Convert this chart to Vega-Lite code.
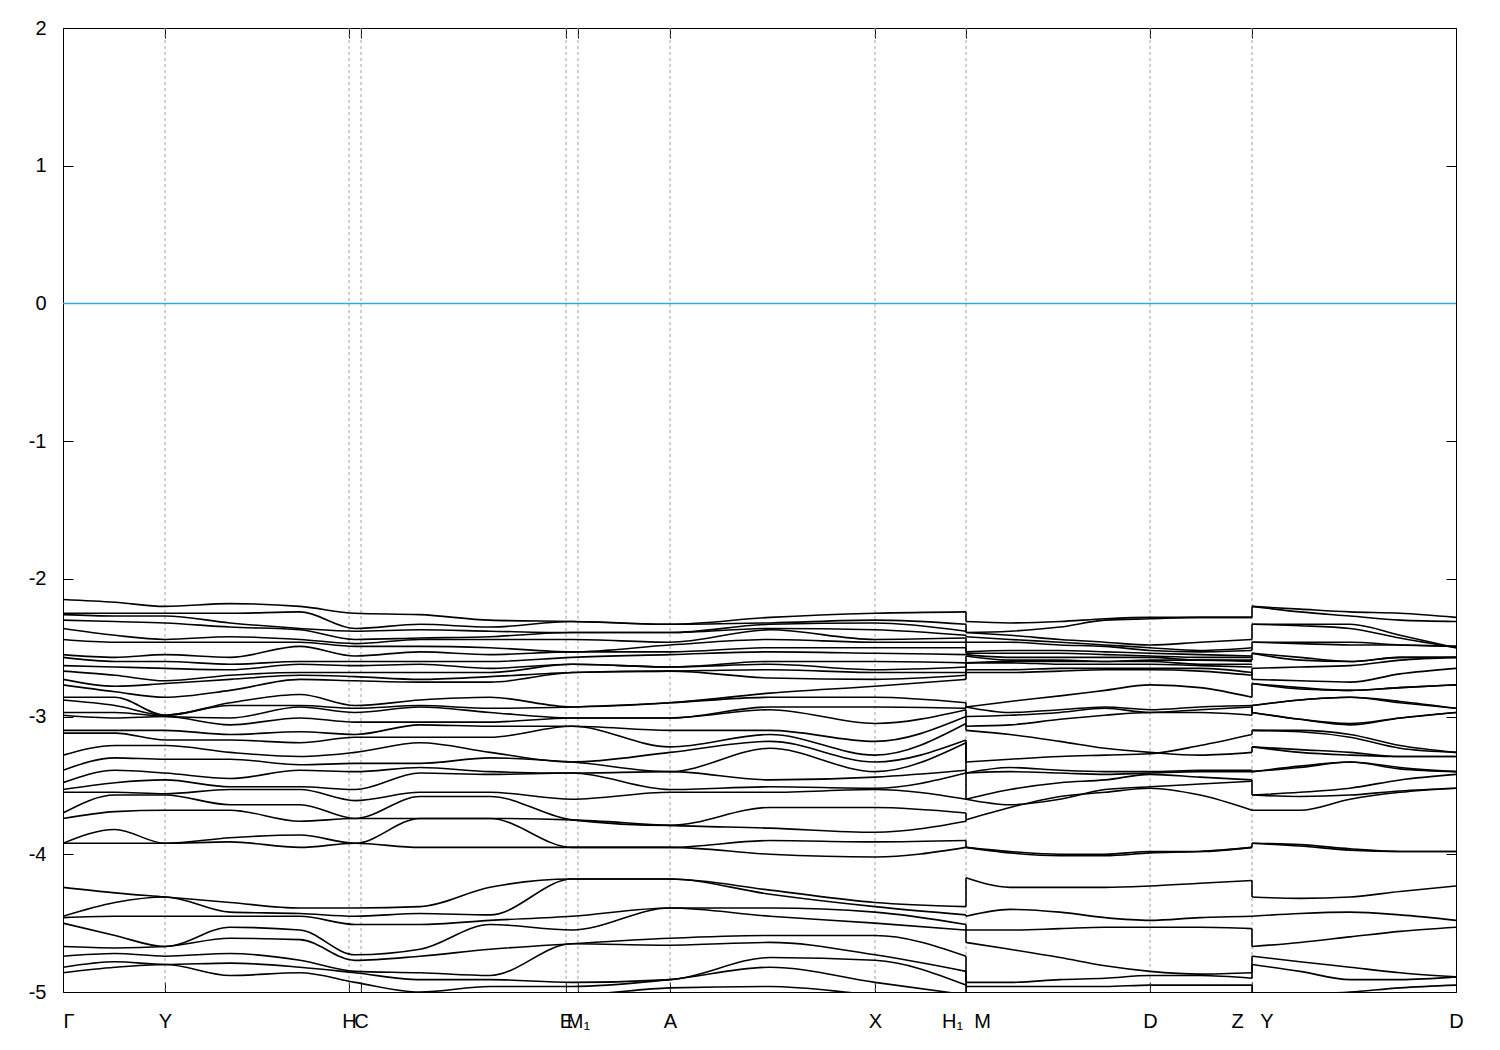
{
"$schema": "https://vega.github.io/schema/vega-lite/v6.json",
"width": 1393, "height": 964,
"autosize": {"type": "none"},
"padding": {"left": 63, "top": 28, "right": 44, "bottom": 58},
"background": "white",
"config": {"view": {"stroke": "black", "strokeWidth": 1}, "font": "Liberation Sans"},
"datasets": {
"kpts": [{"k":102},{"k":286},{"k":298},{"k":503},{"k":515},{"k":607},{"k":812},{"k":903},{"k":1087},{"k":1189}],
"jumps": [
{"k":903,"e":-2.24,"e2":-2.31},{"k":903,"e":-2.33,"e2":-2.39},{"k":903,"e":-2.38,"e2":-2.39},{"k":903,"e":-2.41,"e2":-2.42},{"k":903,"e":-2.43,"e2":-2.46},{"k":903,"e":-2.46,"e2":-2.53},{"k":903,"e":-2.50,"e2":-2.54},{"k":903,"e":-2.61,"e2":-2.56},{"k":903,"e":-2.64,"e2":-2.61},{"k":903,"e":-2.68,"e2":-2.61},{"k":903,"e":-2.70,"e2":-2.66},{"k":903,"e":-2.73,"e2":-2.68},{"k":903,"e":-2.90,"e2":-2.93},{"k":903,"e":-2.94,"e2":-2.93},{"k":903,"e":-2.95,"e2":-3.00},{"k":903,"e":-3.00,"e2":-3.07},{"k":903,"e":-3.05,"e2":-3.10},{"k":903,"e":-3.17,"e2":-3.33},{"k":903,"e":-3.19,"e2":-3.41},{"k":903,"e":-3.39,"e2":-3.41},{"k":903,"e":-3.41,"e2":-3.60},{"k":903,"e":-3.70,"e2":-3.75},{"k":903,"e":-3.76,"e2":-3.75},{"k":903,"e":-3.90,"e2":-3.95},{"k":903,"e":-4.38,"e2":-4.17},{"k":903,"e":-4.44,"e2":-4.45},{"k":903,"e":-4.51,"e2":-4.55},{"k":903,"e":-4.55,"e2":-4.64},{"k":903,"e":-4.74,"e2":-4.93},{"k":903,"e":-4.85,"e2":-4.96},{"k":903,"e":-4.95,"e2":-5.06},
{"k":1189,"e":-2.28,"e2":-2.20},{"k":1189,"e":-2.44,"e2":-2.33},{"k":1189,"e":-2.52,"e2":-2.46},{"k":1189,"e":-2.59,"e2":-2.54},{"k":1189,"e":-2.70,"e2":-2.65},{"k":1189,"e":-2.68,"e2":-2.73},{"k":1189,"e":-2.86,"e2":-2.76},{"k":1189,"e":-2.99,"e2":-2.92},{"k":1189,"e":-2.93,"e2":-2.97},{"k":1189,"e":-3.13,"e2":-3.10},{"k":1189,"e":-3.26,"e2":-3.22},{"k":1189,"e":-3.39,"e2":-3.40},{"k":1189,"e":-3.46,"e2":-3.57},{"k":1189,"e":-3.95,"e2":-3.92},{"k":1189,"e":-4.19,"e2":-4.31},{"k":1189,"e":-4.54,"e2":-4.67},{"k":1189,"e":-4.86,"e2":-4.74},{"k":1189,"e":-4.90,"e2":-4.80},{"k":1189,"e":-4.95,"e2":-5.06}
],
"bands": [
{"s":1,"b":1,"k":0,"e":-2.15},{"s":1,"b":2,"k":0,"e":-2.25},{"s":1,"b":3,"k":0,"e":-2.26},{"s":1,"b":4,"k":0,"e":-2.30},{"s":1,"b":5,"k":0,"e":-2.36},{"s":1,"b":6,"k":0,"e":-2.44},{"s":1,"b":7,"k":0,"e":-2.55},{"s":1,"b":8,"k":0,"e":-2.57},{"s":1,"b":9,"k":0,"e":-2.63},{"s":1,"b":10,"k":0,"e":-2.67},{"s":1,"b":11,"k":0,"e":-2.73},{"s":1,"b":12,"k":0,"e":-2.77},{"s":1,"b":13,"k":0,"e":-2.86},{"s":1,"b":14,"k":0,"e":-2.88},{"s":1,"b":15,"k":0,"e":-2.97},{"s":1,"b":16,"k":0,"e":-2.99},{"s":1,"b":17,"k":0,"e":-3.10},{"s":1,"b":18,"k":0,"e":-3.12},{"s":1,"b":19,"k":0,"e":-3.28},{"s":1,"b":20,"k":0,"e":-3.39},{"s":1,"b":21,"k":0,"e":-3.48},{"s":1,"b":22,"k":0,"e":-3.53},{"s":1,"b":23,"k":0,"e":-3.55},{"s":1,"b":24,"k":0,"e":-3.70},{"s":1,"b":25,"k":0,"e":-3.74},{"s":1,"b":26,"k":0,"e":-3.92},{"s":1,"b":27,"k":0,"e":-3.92},{"s":1,"b":28,"k":0,"e":-4.24},{"s":1,"b":29,"k":0,"e":-4.45},{"s":1,"b":30,"k":0,"e":-4.46},{"s":1,"b":31,"k":0,"e":-4.50},{"s":1,"b":32,"k":0,"e":-4.67},{"s":1,"b":33,"k":0,"e":-4.74},{"s":1,"b":34,"k":0,"e":-4.82},{"s":1,"b":35,"k":0,"e":-4.86},{"s":1,"b":36,"k":0,"e":-5.06},
{"s":1,"b":1,"k":52,"e":-2.17},{"s":1,"b":2,"k":52,"e":-2.25},{"s":1,"b":3,"k":52,"e":-2.27},{"s":1,"b":4,"k":52,"e":-2.31},{"s":1,"b":5,"k":52,"e":-2.41},{"s":1,"b":6,"k":52,"e":-2.46},{"s":1,"b":7,"k":52,"e":-2.57},{"s":1,"b":8,"k":52,"e":-2.60},{"s":1,"b":9,"k":52,"e":-2.64},{"s":1,"b":10,"k":52,"e":-2.70},{"s":1,"b":11,"k":52,"e":-2.78},{"s":1,"b":12,"k":52,"e":-2.82},{"s":1,"b":13,"k":52,"e":-2.86},{"s":1,"b":14,"k":52,"e":-2.92},{"s":1,"b":15,"k":52,"e":-2.97},{"s":1,"b":16,"k":52,"e":-3.01},{"s":1,"b":17,"k":52,"e":-3.10},{"s":1,"b":18,"k":52,"e":-3.12},{"s":1,"b":19,"k":52,"e":-3.21},{"s":1,"b":20,"k":52,"e":-3.30},{"s":1,"b":21,"k":52,"e":-3.39},{"s":1,"b":22,"k":52,"e":-3.48},{"s":1,"b":23,"k":52,"e":-3.55},{"s":1,"b":24,"k":52,"e":-3.57},{"s":1,"b":25,"k":52,"e":-3.69},{"s":1,"b":26,"k":52,"e":-3.82},{"s":1,"b":27,"k":52,"e":-3.92},{"s":1,"b":28,"k":52,"e":-4.28},{"s":1,"b":29,"k":52,"e":-4.35},{"s":1,"b":30,"k":52,"e":-4.45},{"s":1,"b":31,"k":52,"e":-4.59},{"s":1,"b":32,"k":52,"e":-4.68},{"s":1,"b":33,"k":52,"e":-4.72},{"s":1,"b":34,"k":52,"e":-4.78},{"s":1,"b":35,"k":52,"e":-4.82},{"s":1,"b":36,"k":52,"e":-5.06},
{"s":1,"b":1,"k":102,"e":-2.20},{"s":1,"b":2,"k":102,"e":-2.25},{"s":1,"b":3,"k":102,"e":-2.27},{"s":1,"b":4,"k":102,"e":-2.32},{"s":1,"b":5,"k":102,"e":-2.44},{"s":1,"b":6,"k":102,"e":-2.46},{"s":1,"b":7,"k":102,"e":-2.55},{"s":1,"b":8,"k":102,"e":-2.60},{"s":1,"b":9,"k":102,"e":-2.65},{"s":1,"b":10,"k":102,"e":-2.74},{"s":1,"b":11,"k":102,"e":-2.76},{"s":1,"b":12,"k":102,"e":-2.86},{"s":1,"b":13,"k":102,"e":-2.99},{"s":1,"b":14,"k":102,"e":-2.99},{"s":1,"b":15,"k":102,"e":-3.00},{"s":1,"b":16,"k":102,"e":-3.00},{"s":1,"b":17,"k":102,"e":-3.10},{"s":1,"b":18,"k":102,"e":-3.17},{"s":1,"b":19,"k":102,"e":-3.21},{"s":1,"b":20,"k":102,"e":-3.31},{"s":1,"b":21,"k":102,"e":-3.41},{"s":1,"b":22,"k":102,"e":-3.46},{"s":1,"b":23,"k":102,"e":-3.56},{"s":1,"b":24,"k":102,"e":-3.57},{"s":1,"b":25,"k":102,"e":-3.68},{"s":1,"b":26,"k":102,"e":-3.92},{"s":1,"b":27,"k":102,"e":-3.92},{"s":1,"b":28,"k":102,"e":-4.31},{"s":1,"b":29,"k":102,"e":-4.31},{"s":1,"b":30,"k":102,"e":-4.45},{"s":1,"b":31,"k":102,"e":-4.67},{"s":1,"b":32,"k":102,"e":-4.67},{"s":1,"b":33,"k":102,"e":-4.74},{"s":1,"b":34,"k":102,"e":-4.80},{"s":1,"b":35,"k":102,"e":-4.80},{"s":1,"b":36,"k":102,"e":-5.06},
{"s":1,"b":1,"k":167,"e":-2.18},{"s":1,"b":2,"k":167,"e":-2.25},{"s":1,"b":3,"k":167,"e":-2.32},{"s":1,"b":4,"k":167,"e":-2.35},{"s":1,"b":5,"k":167,"e":-2.42},{"s":1,"b":6,"k":167,"e":-2.46},{"s":1,"b":7,"k":167,"e":-2.57},{"s":1,"b":8,"k":167,"e":-2.62},{"s":1,"b":9,"k":167,"e":-2.66},{"s":1,"b":10,"k":167,"e":-2.70},{"s":1,"b":11,"k":167,"e":-2.73},{"s":1,"b":12,"k":167,"e":-2.81},{"s":1,"b":13,"k":167,"e":-2.90},{"s":1,"b":14,"k":167,"e":-2.92},{"s":1,"b":15,"k":167,"e":-3.01},{"s":1,"b":16,"k":167,"e":-3.06},{"s":1,"b":17,"k":167,"e":-3.13},{"s":1,"b":18,"k":167,"e":-3.17},{"s":1,"b":19,"k":167,"e":-3.26},{"s":1,"b":20,"k":167,"e":-3.31},{"s":1,"b":21,"k":167,"e":-3.45},{"s":1,"b":22,"k":167,"e":-3.51},{"s":1,"b":23,"k":167,"e":-3.53},{"s":1,"b":24,"k":167,"e":-3.64},{"s":1,"b":25,"k":167,"e":-3.68},{"s":1,"b":26,"k":167,"e":-3.88},{"s":1,"b":27,"k":167,"e":-3.91},{"s":1,"b":28,"k":167,"e":-4.35},{"s":1,"b":29,"k":167,"e":-4.42},{"s":1,"b":30,"k":167,"e":-4.45},{"s":1,"b":31,"k":167,"e":-4.53},{"s":1,"b":32,"k":167,"e":-4.61},{"s":1,"b":33,"k":167,"e":-4.72},{"s":1,"b":34,"k":167,"e":-4.79},{"s":1,"b":35,"k":167,"e":-4.88},{"s":1,"b":36,"k":167,"e":-5.06},
{"s":1,"b":1,"k":237,"e":-2.20},{"s":1,"b":2,"k":237,"e":-2.24},{"s":1,"b":3,"k":237,"e":-2.36},{"s":1,"b":4,"k":237,"e":-2.37},{"s":1,"b":5,"k":237,"e":-2.44},{"s":1,"b":6,"k":237,"e":-2.46},{"s":1,"b":7,"k":237,"e":-2.49},{"s":1,"b":8,"k":237,"e":-2.60},{"s":1,"b":9,"k":237,"e":-2.62},{"s":1,"b":10,"k":237,"e":-2.68},{"s":1,"b":11,"k":237,"e":-2.70},{"s":1,"b":12,"k":237,"e":-2.73},{"s":1,"b":13,"k":237,"e":-2.84},{"s":1,"b":14,"k":237,"e":-2.92},{"s":1,"b":15,"k":237,"e":-2.93},{"s":1,"b":16,"k":237,"e":-3.01},{"s":1,"b":17,"k":237,"e":-3.11},{"s":1,"b":18,"k":237,"e":-3.19},{"s":1,"b":19,"k":237,"e":-3.29},{"s":1,"b":20,"k":237,"e":-3.35},{"s":1,"b":21,"k":237,"e":-3.39},{"s":1,"b":22,"k":237,"e":-3.51},{"s":1,"b":23,"k":237,"e":-3.53},{"s":1,"b":24,"k":237,"e":-3.64},{"s":1,"b":25,"k":237,"e":-3.76},{"s":1,"b":26,"k":237,"e":-3.86},{"s":1,"b":27,"k":237,"e":-3.95},{"s":1,"b":28,"k":237,"e":-4.39},{"s":1,"b":29,"k":237,"e":-4.43},{"s":1,"b":30,"k":237,"e":-4.45},{"s":1,"b":31,"k":237,"e":-4.55},{"s":1,"b":32,"k":237,"e":-4.62},{"s":1,"b":33,"k":237,"e":-4.77},{"s":1,"b":34,"k":237,"e":-4.82},{"s":1,"b":35,"k":237,"e":-4.86},{"s":1,"b":36,"k":237,"e":-5.02},
{"s":1,"b":1,"k":292,"e":-2.25},{"s":1,"b":2,"k":292,"e":-2.36},{"s":1,"b":3,"k":292,"e":-2.38},{"s":1,"b":4,"k":292,"e":-2.44},{"s":1,"b":5,"k":292,"e":-2.47},{"s":1,"b":6,"k":292,"e":-2.49},{"s":1,"b":7,"k":292,"e":-2.56},{"s":1,"b":8,"k":292,"e":-2.60},{"s":1,"b":9,"k":292,"e":-2.63},{"s":1,"b":10,"k":292,"e":-2.68},{"s":1,"b":11,"k":292,"e":-2.71},{"s":1,"b":12,"k":292,"e":-2.74},{"s":1,"b":13,"k":292,"e":-2.92},{"s":1,"b":14,"k":292,"e":-2.94},{"s":1,"b":15,"k":292,"e":-2.97},{"s":1,"b":16,"k":292,"e":-3.04},{"s":1,"b":17,"k":292,"e":-3.13},{"s":1,"b":18,"k":292,"e":-3.15},{"s":1,"b":19,"k":292,"e":-3.26},{"s":1,"b":20,"k":292,"e":-3.34},{"s":1,"b":21,"k":292,"e":-3.40},{"s":1,"b":22,"k":292,"e":-3.53},{"s":1,"b":23,"k":292,"e":-3.61},{"s":1,"b":24,"k":292,"e":-3.74},{"s":1,"b":25,"k":292,"e":-3.74},{"s":1,"b":26,"k":292,"e":-3.92},{"s":1,"b":27,"k":292,"e":-3.92},{"s":1,"b":28,"k":292,"e":-4.39},{"s":1,"b":29,"k":292,"e":-4.45},{"s":1,"b":30,"k":292,"e":-4.51},{"s":1,"b":31,"k":292,"e":-4.73},{"s":1,"b":32,"k":292,"e":-4.77},{"s":1,"b":33,"k":292,"e":-4.85},{"s":1,"b":34,"k":292,"e":-4.86},{"s":1,"b":35,"k":292,"e":-4.93},{"s":1,"b":36,"k":292,"e":-5.02},
{"s":1,"b":1,"k":357,"e":-2.26},{"s":1,"b":2,"k":357,"e":-2.33},{"s":1,"b":3,"k":357,"e":-2.37},{"s":1,"b":4,"k":357,"e":-2.43},{"s":1,"b":5,"k":357,"e":-2.44},{"s":1,"b":6,"k":357,"e":-2.49},{"s":1,"b":7,"k":357,"e":-2.53},{"s":1,"b":8,"k":357,"e":-2.60},{"s":1,"b":9,"k":357,"e":-2.62},{"s":1,"b":10,"k":357,"e":-2.68},{"s":1,"b":11,"k":357,"e":-2.73},{"s":1,"b":12,"k":357,"e":-2.75},{"s":1,"b":13,"k":357,"e":-2.88},{"s":1,"b":14,"k":357,"e":-2.92},{"s":1,"b":15,"k":357,"e":-2.93},{"s":1,"b":16,"k":357,"e":-3.04},{"s":1,"b":17,"k":357,"e":-3.06},{"s":1,"b":18,"k":357,"e":-3.15},{"s":1,"b":19,"k":357,"e":-3.19},{"s":1,"b":20,"k":357,"e":-3.34},{"s":1,"b":21,"k":357,"e":-3.37},{"s":1,"b":22,"k":357,"e":-3.41},{"s":1,"b":23,"k":357,"e":-3.55},{"s":1,"b":24,"k":357,"e":-3.58},{"s":1,"b":25,"k":357,"e":-3.74},{"s":1,"b":26,"k":357,"e":-3.74},{"s":1,"b":27,"k":357,"e":-3.95},{"s":1,"b":28,"k":357,"e":-4.38},{"s":1,"b":29,"k":357,"e":-4.43},{"s":1,"b":30,"k":357,"e":-4.51},{"s":1,"b":31,"k":357,"e":-4.69},{"s":1,"b":32,"k":357,"e":-4.74},{"s":1,"b":33,"k":357,"e":-4.86},{"s":1,"b":34,"k":357,"e":-4.91},{"s":1,"b":35,"k":357,"e":-5.00},{"s":1,"b":36,"k":357,"e":-5.06},
{"s":1,"b":1,"k":427,"e":-2.30},{"s":1,"b":2,"k":427,"e":-2.35},{"s":1,"b":3,"k":427,"e":-2.38},{"s":1,"b":4,"k":427,"e":-2.42},{"s":1,"b":5,"k":427,"e":-2.44},{"s":1,"b":6,"k":427,"e":-2.50},{"s":1,"b":7,"k":427,"e":-2.55},{"s":1,"b":8,"k":427,"e":-2.60},{"s":1,"b":9,"k":427,"e":-2.65},{"s":1,"b":10,"k":427,"e":-2.68},{"s":1,"b":11,"k":427,"e":-2.71},{"s":1,"b":12,"k":427,"e":-2.75},{"s":1,"b":13,"k":427,"e":-2.86},{"s":1,"b":14,"k":427,"e":-2.94},{"s":1,"b":15,"k":427,"e":-2.97},{"s":1,"b":16,"k":427,"e":-3.04},{"s":1,"b":17,"k":427,"e":-3.07},{"s":1,"b":18,"k":427,"e":-3.15},{"s":1,"b":19,"k":427,"e":-3.26},{"s":1,"b":20,"k":427,"e":-3.30},{"s":1,"b":21,"k":427,"e":-3.40},{"s":1,"b":22,"k":427,"e":-3.42},{"s":1,"b":23,"k":427,"e":-3.55},{"s":1,"b":24,"k":427,"e":-3.58},{"s":1,"b":25,"k":427,"e":-3.74},{"s":1,"b":26,"k":427,"e":-3.74},{"s":1,"b":27,"k":427,"e":-3.95},{"s":1,"b":28,"k":427,"e":-4.24},{"s":1,"b":29,"k":427,"e":-4.44},{"s":1,"b":30,"k":427,"e":-4.48},{"s":1,"b":31,"k":427,"e":-4.51},{"s":1,"b":32,"k":427,"e":-4.69},{"s":1,"b":33,"k":427,"e":-4.88},{"s":1,"b":34,"k":427,"e":-4.91},{"s":1,"b":35,"k":427,"e":-4.96},{"s":1,"b":36,"k":427,"e":-5.02},
{"s":1,"b":1,"k":509,"e":-2.31},{"s":1,"b":2,"k":509,"e":-2.31},{"s":1,"b":3,"k":509,"e":-2.39},{"s":1,"b":4,"k":509,"e":-2.39},{"s":1,"b":5,"k":509,"e":-2.44},{"s":1,"b":6,"k":509,"e":-2.53},{"s":1,"b":7,"k":509,"e":-2.53},{"s":1,"b":8,"k":509,"e":-2.57},{"s":1,"b":9,"k":509,"e":-2.62},{"s":1,"b":10,"k":509,"e":-2.62},{"s":1,"b":11,"k":509,"e":-2.68},{"s":1,"b":12,"k":509,"e":-2.68},{"s":1,"b":13,"k":509,"e":-2.93},{"s":1,"b":14,"k":509,"e":-2.93},{"s":1,"b":15,"k":509,"e":-3.01},{"s":1,"b":16,"k":509,"e":-3.01},{"s":1,"b":17,"k":509,"e":-3.07},{"s":1,"b":18,"k":509,"e":-3.07},{"s":1,"b":19,"k":509,"e":-3.33},{"s":1,"b":20,"k":509,"e":-3.33},{"s":1,"b":21,"k":509,"e":-3.41},{"s":1,"b":22,"k":509,"e":-3.41},{"s":1,"b":23,"k":509,"e":-3.60},{"s":1,"b":24,"k":509,"e":-3.75},{"s":1,"b":25,"k":509,"e":-3.75},{"s":1,"b":26,"k":509,"e":-3.95},{"s":1,"b":27,"k":509,"e":-3.95},{"s":1,"b":28,"k":509,"e":-4.18},{"s":1,"b":29,"k":509,"e":-4.18},{"s":1,"b":30,"k":509,"e":-4.45},{"s":1,"b":31,"k":509,"e":-4.55},{"s":1,"b":32,"k":509,"e":-4.65},{"s":1,"b":33,"k":509,"e":-4.65},{"s":1,"b":34,"k":509,"e":-4.93},{"s":1,"b":35,"k":509,"e":-4.96},{"s":1,"b":36,"k":509,"e":-5.02},
{"s":1,"b":1,"k":607,"e":-2.33},{"s":1,"b":2,"k":607,"e":-2.33},{"s":1,"b":3,"k":607,"e":-2.39},{"s":1,"b":4,"k":607,"e":-2.39},{"s":1,"b":5,"k":607,"e":-2.46},{"s":1,"b":6,"k":607,"e":-2.48},{"s":1,"b":7,"k":607,"e":-2.53},{"s":1,"b":8,"k":607,"e":-2.55},{"s":1,"b":9,"k":607,"e":-2.64},{"s":1,"b":10,"k":607,"e":-2.64},{"s":1,"b":11,"k":607,"e":-2.67},{"s":1,"b":12,"k":607,"e":-2.67},{"s":1,"b":13,"k":607,"e":-2.90},{"s":1,"b":14,"k":607,"e":-2.90},{"s":1,"b":15,"k":607,"e":-3.01},{"s":1,"b":16,"k":607,"e":-3.01},{"s":1,"b":17,"k":607,"e":-3.10},{"s":1,"b":18,"k":607,"e":-3.22},{"s":1,"b":19,"k":607,"e":-3.26},{"s":1,"b":20,"k":607,"e":-3.40},{"s":1,"b":21,"k":607,"e":-3.40},{"s":1,"b":22,"k":607,"e":-3.53},{"s":1,"b":23,"k":607,"e":-3.55},{"s":1,"b":24,"k":607,"e":-3.79},{"s":1,"b":25,"k":607,"e":-3.79},{"s":1,"b":26,"k":607,"e":-3.95},{"s":1,"b":27,"k":607,"e":-3.95},{"s":1,"b":28,"k":607,"e":-4.18},{"s":1,"b":29,"k":607,"e":-4.18},{"s":1,"b":30,"k":607,"e":-4.39},{"s":1,"b":31,"k":607,"e":-4.39},{"s":1,"b":32,"k":607,"e":-4.61},{"s":1,"b":33,"k":607,"e":-4.66},{"s":1,"b":34,"k":607,"e":-4.91},{"s":1,"b":35,"k":607,"e":-4.91},{"s":1,"b":36,"k":607,"e":-4.97},
{"s":1,"b":1,"k":707,"e":-2.28},{"s":1,"b":2,"k":707,"e":-2.32},{"s":1,"b":3,"k":707,"e":-2.33},{"s":1,"b":4,"k":707,"e":-2.36},{"s":1,"b":5,"k":707,"e":-2.37},{"s":1,"b":6,"k":707,"e":-2.44},{"s":1,"b":7,"k":707,"e":-2.50},{"s":1,"b":8,"k":707,"e":-2.53},{"s":1,"b":9,"k":707,"e":-2.60},{"s":1,"b":10,"k":707,"e":-2.62},{"s":1,"b":11,"k":707,"e":-2.66},{"s":1,"b":12,"k":707,"e":-2.72},{"s":1,"b":13,"k":707,"e":-2.83},{"s":1,"b":14,"k":707,"e":-2.86},{"s":1,"b":15,"k":707,"e":-2.93},{"s":1,"b":16,"k":707,"e":-2.95},{"s":1,"b":17,"k":707,"e":-3.10},{"s":1,"b":18,"k":707,"e":-3.13},{"s":1,"b":19,"k":707,"e":-3.18},{"s":1,"b":20,"k":707,"e":-3.23},{"s":1,"b":21,"k":707,"e":-3.46},{"s":1,"b":22,"k":707,"e":-3.51},{"s":1,"b":23,"k":707,"e":-3.55},{"s":1,"b":24,"k":707,"e":-3.66},{"s":1,"b":25,"k":707,"e":-3.81},{"s":1,"b":26,"k":707,"e":-3.90},{"s":1,"b":27,"k":707,"e":-4.00},{"s":1,"b":28,"k":707,"e":-4.26},{"s":1,"b":29,"k":707,"e":-4.29},{"s":1,"b":30,"k":707,"e":-4.39},{"s":1,"b":31,"k":707,"e":-4.45},{"s":1,"b":32,"k":707,"e":-4.59},{"s":1,"b":33,"k":707,"e":-4.64},{"s":1,"b":34,"k":707,"e":-4.75},{"s":1,"b":35,"k":707,"e":-4.82},{"s":1,"b":36,"k":707,"e":-4.96},
{"s":1,"b":1,"k":812,"e":-2.25},{"s":1,"b":2,"k":812,"e":-2.30},{"s":1,"b":3,"k":812,"e":-2.32},{"s":1,"b":4,"k":812,"e":-2.37},{"s":1,"b":5,"k":812,"e":-2.44},{"s":1,"b":6,"k":812,"e":-2.46},{"s":1,"b":7,"k":812,"e":-2.50},{"s":1,"b":8,"k":812,"e":-2.54},{"s":1,"b":9,"k":812,"e":-2.60},{"s":1,"b":10,"k":812,"e":-2.66},{"s":1,"b":11,"k":812,"e":-2.68},{"s":1,"b":12,"k":812,"e":-2.73},{"s":1,"b":13,"k":812,"e":-2.78},{"s":1,"b":14,"k":812,"e":-2.86},{"s":1,"b":15,"k":812,"e":-2.93},{"s":1,"b":16,"k":812,"e":-3.05},{"s":1,"b":17,"k":812,"e":-3.18},{"s":1,"b":18,"k":812,"e":-3.28},{"s":1,"b":19,"k":812,"e":-3.33},{"s":1,"b":20,"k":812,"e":-3.40},{"s":1,"b":21,"k":812,"e":-3.44},{"s":1,"b":22,"k":812,"e":-3.52},{"s":1,"b":23,"k":812,"e":-3.53},{"s":1,"b":24,"k":812,"e":-3.66},{"s":1,"b":25,"k":812,"e":-3.84},{"s":1,"b":26,"k":812,"e":-3.91},{"s":1,"b":27,"k":812,"e":-4.02},{"s":1,"b":28,"k":812,"e":-4.35},{"s":1,"b":29,"k":812,"e":-4.38},{"s":1,"b":30,"k":812,"e":-4.42},{"s":1,"b":31,"k":812,"e":-4.50},{"s":1,"b":32,"k":812,"e":-4.59},{"s":1,"b":33,"k":812,"e":-4.73},{"s":1,"b":34,"k":812,"e":-4.77},{"s":1,"b":35,"k":812,"e":-4.93},{"s":1,"b":36,"k":812,"e":-5.02},
{"s":1,"b":1,"k":903,"e":-2.24},{"s":1,"b":2,"k":903,"e":-2.33},{"s":1,"b":3,"k":903,"e":-2.38},{"s":1,"b":4,"k":903,"e":-2.41},{"s":1,"b":5,"k":903,"e":-2.43},{"s":1,"b":6,"k":903,"e":-2.46},{"s":1,"b":7,"k":903,"e":-2.50},{"s":1,"b":8,"k":903,"e":-2.55},{"s":1,"b":9,"k":903,"e":-2.61},{"s":1,"b":10,"k":903,"e":-2.64},{"s":1,"b":11,"k":903,"e":-2.68},{"s":1,"b":12,"k":903,"e":-2.70},{"s":1,"b":13,"k":903,"e":-2.73},{"s":1,"b":14,"k":903,"e":-2.90},{"s":1,"b":15,"k":903,"e":-2.94},{"s":1,"b":16,"k":903,"e":-2.95},{"s":1,"b":17,"k":903,"e":-3.00},{"s":1,"b":18,"k":903,"e":-3.05},{"s":1,"b":19,"k":903,"e":-3.17},{"s":1,"b":20,"k":903,"e":-3.19},{"s":1,"b":21,"k":903,"e":-3.39},{"s":1,"b":22,"k":903,"e":-3.41},{"s":1,"b":23,"k":903,"e":-3.60},{"s":1,"b":24,"k":903,"e":-3.70},{"s":1,"b":25,"k":903,"e":-3.76},{"s":1,"b":26,"k":903,"e":-3.90},{"s":1,"b":27,"k":903,"e":-3.95},{"s":1,"b":28,"k":903,"e":-4.38},{"s":1,"b":29,"k":903,"e":-4.44},{"s":1,"b":30,"k":903,"e":-4.51},{"s":1,"b":31,"k":903,"e":-4.55},{"s":1,"b":32,"k":903,"e":-4.74},{"s":1,"b":33,"k":903,"e":-4.85},{"s":1,"b":34,"k":903,"e":-4.95},{"s":1,"b":35,"k":903,"e":-5.02},{"s":1,"b":36,"k":903,"e":-5.06},

{"s":2,"b":1,"k":903,"e":-2.31},{"s":2,"b":1,"k":947,"e":-2.32},{"s":2,"b":1,"k":997,"e":-2.31},{"s":2,"b":1,"k":1042,"e":-2.29},{"s":2,"b":1,"k":1087,"e":-2.28},{"s":2,"b":1,"k":1137,"e":-2.28},{"s":2,"b":1,"k":1189,"e":-2.28},
{"s":2,"b":2,"k":903,"e":-2.39},{"s":2,"b":2,"k":947,"e":-2.38},{"s":2,"b":2,"k":997,"e":-2.35},{"s":2,"b":2,"k":1042,"e":-2.30},{"s":2,"b":2,"k":1087,"e":-2.29},{"s":2,"b":2,"k":1137,"e":-2.28},{"s":2,"b":2,"k":1189,"e":-2.28},
{"s":2,"b":3,"k":903,"e":-2.39},{"s":2,"b":3,"k":947,"e":-2.41},{"s":2,"b":3,"k":997,"e":-2.44},{"s":2,"b":3,"k":1042,"e":-2.46},{"s":2,"b":3,"k":1087,"e":-2.48},{"s":2,"b":3,"k":1137,"e":-2.46},{"s":2,"b":3,"k":1189,"e":-2.44},
{"s":2,"b":4,"k":903,"e":-2.42},{"s":2,"b":4,"k":947,"e":-2.44},{"s":2,"b":4,"k":997,"e":-2.46},{"s":2,"b":4,"k":1042,"e":-2.48},{"s":2,"b":4,"k":1087,"e":-2.50},{"s":2,"b":4,"k":1137,"e":-2.52},{"s":2,"b":4,"k":1189,"e":-2.50},
{"s":2,"b":5,"k":903,"e":-2.46},{"s":2,"b":5,"k":947,"e":-2.46},{"s":2,"b":5,"k":997,"e":-2.48},{"s":2,"b":5,"k":1042,"e":-2.49},{"s":2,"b":5,"k":1087,"e":-2.52},{"s":2,"b":5,"k":1137,"e":-2.53},{"s":2,"b":5,"k":1189,"e":-2.52},
{"s":2,"b":6,"k":903,"e":-2.53},{"s":2,"b":6,"k":947,"e":-2.52},{"s":2,"b":6,"k":997,"e":-2.52},{"s":2,"b":6,"k":1042,"e":-2.53},{"s":2,"b":6,"k":1087,"e":-2.54},{"s":2,"b":6,"k":1137,"e":-2.55},{"s":2,"b":6,"k":1189,"e":-2.56},
{"s":2,"b":7,"k":903,"e":-2.54},{"s":2,"b":7,"k":947,"e":-2.54},{"s":2,"b":7,"k":997,"e":-2.54},{"s":2,"b":7,"k":1042,"e":-2.55},{"s":2,"b":7,"k":1087,"e":-2.56},{"s":2,"b":7,"k":1137,"e":-2.57},{"s":2,"b":7,"k":1189,"e":-2.57},
{"s":2,"b":8,"k":903,"e":-2.55},{"s":2,"b":8,"k":947,"e":-2.57},{"s":2,"b":8,"k":997,"e":-2.57},{"s":2,"b":8,"k":1042,"e":-2.57},{"s":2,"b":8,"k":1087,"e":-2.57},{"s":2,"b":8,"k":1137,"e":-2.59},{"s":2,"b":8,"k":1189,"e":-2.59},
{"s":2,"b":9,"k":903,"e":-2.56},{"s":2,"b":9,"k":947,"e":-2.59},{"s":2,"b":9,"k":997,"e":-2.59},{"s":2,"b":9,"k":1042,"e":-2.60},{"s":2,"b":9,"k":1087,"e":-2.59},{"s":2,"b":9,"k":1137,"e":-2.59},{"s":2,"b":9,"k":1189,"e":-2.60},
{"s":2,"b":10,"k":903,"e":-2.61},{"s":2,"b":10,"k":947,"e":-2.60},{"s":2,"b":10,"k":997,"e":-2.60},{"s":2,"b":10,"k":1042,"e":-2.60},{"s":2,"b":10,"k":1087,"e":-2.60},{"s":2,"b":10,"k":1137,"e":-2.62},{"s":2,"b":10,"k":1189,"e":-2.62},
{"s":2,"b":11,"k":903,"e":-2.61},{"s":2,"b":11,"k":947,"e":-2.61},{"s":2,"b":11,"k":997,"e":-2.62},{"s":2,"b":11,"k":1042,"e":-2.62},{"s":2,"b":11,"k":1087,"e":-2.62},{"s":2,"b":11,"k":1137,"e":-2.63},{"s":2,"b":11,"k":1189,"e":-2.64},
{"s":2,"b":12,"k":903,"e":-2.66},{"s":2,"b":12,"k":947,"e":-2.66},{"s":2,"b":12,"k":997,"e":-2.65},{"s":2,"b":12,"k":1042,"e":-2.65},{"s":2,"b":12,"k":1087,"e":-2.65},{"s":2,"b":12,"k":1137,"e":-2.65},{"s":2,"b":12,"k":1189,"e":-2.68},
{"s":2,"b":13,"k":903,"e":-2.68},{"s":2,"b":13,"k":947,"e":-2.68},{"s":2,"b":13,"k":997,"e":-2.67},{"s":2,"b":13,"k":1042,"e":-2.66},{"s":2,"b":13,"k":1087,"e":-2.66},{"s":2,"b":13,"k":1137,"e":-2.67},{"s":2,"b":13,"k":1189,"e":-2.70},
{"s":2,"b":14,"k":903,"e":-2.93},{"s":2,"b":14,"k":947,"e":-2.89},{"s":2,"b":14,"k":997,"e":-2.85},{"s":2,"b":14,"k":1042,"e":-2.81},{"s":2,"b":14,"k":1087,"e":-2.77},{"s":2,"b":14,"k":1137,"e":-2.79},{"s":2,"b":14,"k":1189,"e":-2.86},
{"s":2,"b":15,"k":903,"e":-2.93},{"s":2,"b":15,"k":947,"e":-2.97},{"s":2,"b":15,"k":997,"e":-2.95},{"s":2,"b":15,"k":1042,"e":-2.93},{"s":2,"b":15,"k":1087,"e":-2.95},{"s":2,"b":15,"k":1137,"e":-2.93},{"s":2,"b":15,"k":1189,"e":-2.92},
{"s":2,"b":16,"k":903,"e":-3.00},{"s":2,"b":16,"k":947,"e":-2.99},{"s":2,"b":16,"k":997,"e":-2.97},{"s":2,"b":16,"k":1042,"e":-2.94},{"s":2,"b":16,"k":1087,"e":-2.97},{"s":2,"b":16,"k":1137,"e":-2.95},{"s":2,"b":16,"k":1189,"e":-2.93},
{"s":2,"b":17,"k":903,"e":-3.07},{"s":2,"b":17,"k":947,"e":-3.06},{"s":2,"b":17,"k":997,"e":-3.02},{"s":2,"b":17,"k":1042,"e":-2.99},{"s":2,"b":17,"k":1087,"e":-2.97},{"s":2,"b":17,"k":1137,"e":-2.97},{"s":2,"b":17,"k":1189,"e":-2.99},
{"s":2,"b":18,"k":903,"e":-3.10},{"s":2,"b":18,"k":947,"e":-3.13},{"s":2,"b":18,"k":997,"e":-3.18},{"s":2,"b":18,"k":1042,"e":-3.23},{"s":2,"b":18,"k":1087,"e":-3.26},{"s":2,"b":18,"k":1137,"e":-3.28},{"s":2,"b":18,"k":1189,"e":-3.26},
{"s":2,"b":19,"k":903,"e":-3.33},{"s":2,"b":19,"k":947,"e":-3.31},{"s":2,"b":19,"k":997,"e":-3.29},{"s":2,"b":19,"k":1042,"e":-3.28},{"s":2,"b":19,"k":1087,"e":-3.27},{"s":2,"b":19,"k":1137,"e":-3.21},{"s":2,"b":19,"k":1189,"e":-3.13},
{"s":2,"b":20,"k":903,"e":-3.41},{"s":2,"b":20,"k":947,"e":-3.37},{"s":2,"b":20,"k":997,"e":-3.39},{"s":2,"b":20,"k":1042,"e":-3.40},{"s":2,"b":20,"k":1087,"e":-3.40},{"s":2,"b":20,"k":1137,"e":-3.39},{"s":2,"b":20,"k":1189,"e":-3.39},
{"s":2,"b":21,"k":903,"e":-3.41},{"s":2,"b":21,"k":947,"e":-3.40},{"s":2,"b":21,"k":997,"e":-3.41},{"s":2,"b":21,"k":1042,"e":-3.42},{"s":2,"b":21,"k":1087,"e":-3.41},{"s":2,"b":21,"k":1137,"e":-3.40},{"s":2,"b":21,"k":1189,"e":-3.40},
{"s":2,"b":22,"k":903,"e":-3.60},{"s":2,"b":22,"k":947,"e":-3.53},{"s":2,"b":22,"k":997,"e":-3.48},{"s":2,"b":22,"k":1042,"e":-3.46},{"s":2,"b":22,"k":1087,"e":-3.42},{"s":2,"b":22,"k":1137,"e":-3.44},{"s":2,"b":22,"k":1189,"e":-3.46},
{"s":2,"b":23,"k":903,"e":-3.60},{"s":2,"b":23,"k":947,"e":-3.64},{"s":2,"b":23,"k":997,"e":-3.60},{"s":2,"b":23,"k":1042,"e":-3.53},{"s":2,"b":23,"k":1087,"e":-3.51},{"s":2,"b":23,"k":1137,"e":-3.49},{"s":2,"b":23,"k":1189,"e":-3.47},
{"s":2,"b":24,"k":903,"e":-3.75},{"s":2,"b":24,"k":947,"e":-3.66},{"s":2,"b":24,"k":997,"e":-3.58},{"s":2,"b":24,"k":1042,"e":-3.55},{"s":2,"b":24,"k":1087,"e":-3.52},{"s":2,"b":24,"k":1137,"e":-3.57},{"s":2,"b":24,"k":1189,"e":-3.68},
{"s":2,"b":25,"k":903,"e":-3.95},{"s":2,"b":25,"k":947,"e":-3.98},{"s":2,"b":25,"k":997,"e":-4.00},{"s":2,"b":25,"k":1042,"e":-4.00},{"s":2,"b":25,"k":1087,"e":-3.98},{"s":2,"b":25,"k":1137,"e":-3.98},{"s":2,"b":25,"k":1189,"e":-3.95},
{"s":2,"b":26,"k":903,"e":-3.95},{"s":2,"b":26,"k":947,"e":-3.99},{"s":2,"b":26,"k":997,"e":-4.01},{"s":2,"b":26,"k":1042,"e":-4.01},{"s":2,"b":26,"k":1087,"e":-3.99},{"s":2,"b":26,"k":1137,"e":-3.98},{"s":2,"b":26,"k":1189,"e":-3.95},
{"s":2,"b":27,"k":903,"e":-4.17},{"s":2,"b":27,"k":947,"e":-4.24},{"s":2,"b":27,"k":997,"e":-4.24},{"s":2,"b":27,"k":1042,"e":-4.24},{"s":2,"b":27,"k":1087,"e":-4.23},{"s":2,"b":27,"k":1137,"e":-4.21},{"s":2,"b":27,"k":1189,"e":-4.19},
{"s":2,"b":28,"k":903,"e":-4.45},{"s":2,"b":28,"k":947,"e":-4.40},{"s":2,"b":28,"k":997,"e":-4.42},{"s":2,"b":28,"k":1042,"e":-4.46},{"s":2,"b":28,"k":1087,"e":-4.48},{"s":2,"b":28,"k":1137,"e":-4.46},{"s":2,"b":28,"k":1189,"e":-4.45},
{"s":2,"b":29,"k":903,"e":-4.55},{"s":2,"b":29,"k":947,"e":-4.55},{"s":2,"b":29,"k":997,"e":-4.54},{"s":2,"b":29,"k":1042,"e":-4.53},{"s":2,"b":29,"k":1087,"e":-4.53},{"s":2,"b":29,"k":1137,"e":-4.53},{"s":2,"b":29,"k":1189,"e":-4.54},
{"s":2,"b":30,"k":903,"e":-4.64},{"s":2,"b":30,"k":947,"e":-4.69},{"s":2,"b":30,"k":997,"e":-4.75},{"s":2,"b":30,"k":1042,"e":-4.81},{"s":2,"b":30,"k":1087,"e":-4.85},{"s":2,"b":30,"k":1137,"e":-4.87},{"s":2,"b":30,"k":1189,"e":-4.86},
{"s":2,"b":31,"k":903,"e":-4.93},{"s":2,"b":31,"k":947,"e":-4.93},{"s":2,"b":31,"k":997,"e":-4.91},{"s":2,"b":31,"k":1042,"e":-4.90},{"s":2,"b":31,"k":1087,"e":-4.88},{"s":2,"b":31,"k":1137,"e":-4.88},{"s":2,"b":31,"k":1189,"e":-4.90},
{"s":2,"b":32,"k":903,"e":-4.96},{"s":2,"b":32,"k":947,"e":-4.96},{"s":2,"b":32,"k":997,"e":-4.96},{"s":2,"b":32,"k":1042,"e":-4.96},{"s":2,"b":32,"k":1087,"e":-4.95},{"s":2,"b":32,"k":1137,"e":-4.95},{"s":2,"b":32,"k":1189,"e":-4.95},

{"s":3,"b":1,"k":1189,"e":-2.20},{"s":3,"b":1,"k":1237,"e":-2.22},{"s":3,"b":1,"k":1287,"e":-2.24},{"s":3,"b":1,"k":1337,"e":-2.25},{"s":3,"b":1,"k":1393,"e":-2.28},
{"s":3,"b":2,"k":1189,"e":-2.20},{"s":3,"b":2,"k":1237,"e":-2.24},{"s":3,"b":2,"k":1287,"e":-2.27},{"s":3,"b":2,"k":1337,"e":-2.30},{"s":3,"b":2,"k":1393,"e":-2.31},
{"s":3,"b":3,"k":1189,"e":-2.33},{"s":3,"b":3,"k":1237,"e":-2.33},{"s":3,"b":3,"k":1287,"e":-2.33},{"s":3,"b":3,"k":1337,"e":-2.41},{"s":3,"b":3,"k":1393,"e":-2.50},
{"s":3,"b":4,"k":1189,"e":-2.33},{"s":3,"b":4,"k":1237,"e":-2.34},{"s":3,"b":4,"k":1287,"e":-2.36},{"s":3,"b":4,"k":1337,"e":-2.43},{"s":3,"b":4,"k":1393,"e":-2.50},
{"s":3,"b":5,"k":1189,"e":-2.46},{"s":3,"b":5,"k":1237,"e":-2.46},{"s":3,"b":5,"k":1287,"e":-2.46},{"s":3,"b":5,"k":1337,"e":-2.48},{"s":3,"b":5,"k":1393,"e":-2.49},
{"s":3,"b":6,"k":1189,"e":-2.46},{"s":3,"b":6,"k":1237,"e":-2.47},{"s":3,"b":6,"k":1287,"e":-2.48},{"s":3,"b":6,"k":1337,"e":-2.48},{"s":3,"b":6,"k":1393,"e":-2.49},
{"s":3,"b":7,"k":1189,"e":-2.54},{"s":3,"b":7,"k":1237,"e":-2.59},{"s":3,"b":7,"k":1287,"e":-2.60},{"s":3,"b":7,"k":1337,"e":-2.57},{"s":3,"b":7,"k":1393,"e":-2.57},
{"s":3,"b":8,"k":1189,"e":-2.54},{"s":3,"b":8,"k":1237,"e":-2.57},{"s":3,"b":8,"k":1287,"e":-2.60},{"s":3,"b":8,"k":1337,"e":-2.57},{"s":3,"b":8,"k":1393,"e":-2.57},
{"s":3,"b":9,"k":1189,"e":-2.65},{"s":3,"b":9,"k":1237,"e":-2.64},{"s":3,"b":9,"k":1287,"e":-2.63},{"s":3,"b":9,"k":1337,"e":-2.59},{"s":3,"b":9,"k":1393,"e":-2.57},
{"s":3,"b":10,"k":1189,"e":-2.73},{"s":3,"b":10,"k":1237,"e":-2.74},{"s":3,"b":10,"k":1287,"e":-2.75},{"s":3,"b":10,"k":1337,"e":-2.69},{"s":3,"b":10,"k":1393,"e":-2.65},
{"s":3,"b":11,"k":1189,"e":-2.76},{"s":3,"b":11,"k":1237,"e":-2.79},{"s":3,"b":11,"k":1287,"e":-2.81},{"s":3,"b":11,"k":1337,"e":-2.79},{"s":3,"b":11,"k":1393,"e":-2.77},
{"s":3,"b":12,"k":1189,"e":-2.76},{"s":3,"b":12,"k":1237,"e":-2.80},{"s":3,"b":12,"k":1287,"e":-2.81},{"s":3,"b":12,"k":1337,"e":-2.79},{"s":3,"b":12,"k":1393,"e":-2.77},
{"s":3,"b":13,"k":1189,"e":-2.92},{"s":3,"b":13,"k":1237,"e":-2.88},{"s":3,"b":13,"k":1287,"e":-2.86},{"s":3,"b":13,"k":1337,"e":-2.89},{"s":3,"b":13,"k":1393,"e":-2.94},
{"s":3,"b":14,"k":1189,"e":-2.92},{"s":3,"b":14,"k":1237,"e":-2.88},{"s":3,"b":14,"k":1287,"e":-2.86},{"s":3,"b":14,"k":1337,"e":-2.90},{"s":3,"b":14,"k":1393,"e":-2.94},
{"s":3,"b":15,"k":1189,"e":-2.97},{"s":3,"b":15,"k":1237,"e":-3.02},{"s":3,"b":15,"k":1287,"e":-3.06},{"s":3,"b":15,"k":1337,"e":-3.01},{"s":3,"b":15,"k":1393,"e":-2.97},
{"s":3,"b":16,"k":1189,"e":-2.97},{"s":3,"b":16,"k":1237,"e":-3.02},{"s":3,"b":16,"k":1287,"e":-3.05},{"s":3,"b":16,"k":1337,"e":-3.01},{"s":3,"b":16,"k":1393,"e":-2.97},
{"s":3,"b":17,"k":1189,"e":-3.10},{"s":3,"b":17,"k":1237,"e":-3.10},{"s":3,"b":17,"k":1287,"e":-3.13},{"s":3,"b":17,"k":1337,"e":-3.21},{"s":3,"b":17,"k":1393,"e":-3.26},
{"s":3,"b":18,"k":1189,"e":-3.10},{"s":3,"b":18,"k":1237,"e":-3.11},{"s":3,"b":18,"k":1287,"e":-3.15},{"s":3,"b":18,"k":1337,"e":-3.23},{"s":3,"b":18,"k":1393,"e":-3.26},
{"s":3,"b":19,"k":1189,"e":-3.22},{"s":3,"b":19,"k":1237,"e":-3.24},{"s":3,"b":19,"k":1287,"e":-3.26},{"s":3,"b":19,"k":1337,"e":-3.29},{"s":3,"b":19,"k":1393,"e":-3.29},
{"s":3,"b":20,"k":1189,"e":-3.22},{"s":3,"b":20,"k":1237,"e":-3.26},{"s":3,"b":20,"k":1287,"e":-3.28},{"s":3,"b":20,"k":1337,"e":-3.29},{"s":3,"b":20,"k":1393,"e":-3.29},
{"s":3,"b":21,"k":1189,"e":-3.40},{"s":3,"b":21,"k":1237,"e":-3.37},{"s":3,"b":21,"k":1287,"e":-3.33},{"s":3,"b":21,"k":1337,"e":-3.37},{"s":3,"b":21,"k":1393,"e":-3.40},
{"s":3,"b":22,"k":1189,"e":-3.40},{"s":3,"b":22,"k":1237,"e":-3.36},{"s":3,"b":22,"k":1287,"e":-3.33},{"s":3,"b":22,"k":1337,"e":-3.38},{"s":3,"b":22,"k":1393,"e":-3.40},
{"s":3,"b":23,"k":1189,"e":-3.57},{"s":3,"b":23,"k":1237,"e":-3.55},{"s":3,"b":23,"k":1287,"e":-3.52},{"s":3,"b":23,"k":1337,"e":-3.46},{"s":3,"b":23,"k":1393,"e":-3.42},
{"s":3,"b":24,"k":1189,"e":-3.57},{"s":3,"b":24,"k":1237,"e":-3.58},{"s":3,"b":24,"k":1287,"e":-3.57},{"s":3,"b":24,"k":1337,"e":-3.54},{"s":3,"b":24,"k":1393,"e":-3.52},
{"s":3,"b":25,"k":1189,"e":-3.68},{"s":3,"b":25,"k":1237,"e":-3.68},{"s":3,"b":25,"k":1287,"e":-3.60},{"s":3,"b":25,"k":1337,"e":-3.55},{"s":3,"b":25,"k":1393,"e":-3.52},
{"s":3,"b":26,"k":1189,"e":-3.92},{"s":3,"b":26,"k":1237,"e":-3.93},{"s":3,"b":26,"k":1287,"e":-3.96},{"s":3,"b":26,"k":1337,"e":-3.98},{"s":3,"b":26,"k":1393,"e":-3.98},
{"s":3,"b":27,"k":1189,"e":-3.92},{"s":3,"b":27,"k":1237,"e":-3.94},{"s":3,"b":27,"k":1287,"e":-3.97},{"s":3,"b":27,"k":1337,"e":-3.98},{"s":3,"b":27,"k":1393,"e":-3.98},
{"s":3,"b":28,"k":1189,"e":-4.31},{"s":3,"b":28,"k":1237,"e":-4.32},{"s":3,"b":28,"k":1287,"e":-4.31},{"s":3,"b":28,"k":1337,"e":-4.27},{"s":3,"b":28,"k":1393,"e":-4.23},
{"s":3,"b":29,"k":1189,"e":-4.45},{"s":3,"b":29,"k":1237,"e":-4.43},{"s":3,"b":29,"k":1287,"e":-4.42},{"s":3,"b":29,"k":1337,"e":-4.44},{"s":3,"b":29,"k":1393,"e":-4.48},
{"s":3,"b":30,"k":1189,"e":-4.67},{"s":3,"b":30,"k":1237,"e":-4.64},{"s":3,"b":30,"k":1287,"e":-4.60},{"s":3,"b":30,"k":1337,"e":-4.56},{"s":3,"b":30,"k":1393,"e":-4.53},
{"s":3,"b":31,"k":1189,"e":-4.74},{"s":3,"b":31,"k":1237,"e":-4.78},{"s":3,"b":31,"k":1287,"e":-4.82},{"s":3,"b":31,"k":1337,"e":-4.86},{"s":3,"b":31,"k":1393,"e":-4.89},
{"s":3,"b":32,"k":1189,"e":-4.80},{"s":3,"b":32,"k":1237,"e":-4.85},{"s":3,"b":32,"k":1287,"e":-4.91},{"s":3,"b":32,"k":1337,"e":-4.91},{"s":3,"b":32,"k":1393,"e":-4.89},
{"s":3,"b":33,"k":1189,"e":-5.06},{"s":3,"b":33,"k":1237,"e":-5.02},{"s":3,"b":33,"k":1287,"e":-5.00},{"s":3,"b":33,"k":1337,"e":-4.97},{"s":3,"b":33,"k":1393,"e":-4.95}
]
},
"layer": [
{
"data": {"name": "kpts"},
"mark": {"type": "rule", "color": "#a0a0a0", "strokeDash": [3, 3], "strokeWidth": 1},
"encoding": {
"x": {"field": "k", "type": "quantitative", "scale": {"domain": [0, 1393], "nice": false, "zero": false},
"axis": {"orient": "top", "values": [0, 102, 286, 298, 503, 515, 607, 812, 903, 1087, 1189, 1393], "labels": false, "ticks": true, "tickSize": -10, "tickColor": "black", "tickWidth": 1, "domain": false, "grid": false, "title": null}}
}
},
{
"data": {"values": [{}]},
"mark": {"type": "rule", "color": "#38a4e0", "strokeWidth": 1.5},
"encoding": {
"y": {"datum": 0, "type": "quantitative", "scale": {"domain": [-5, 2], "nice": false, "zero": false},
"axis": {"orient": "right", "values": [-5, -4, -3, -2, -1, 0, 1, 2], "labels": false, "ticks": true, "tickSize": -10, "tickColor": "black", "tickWidth": 1, "domain": false, "grid": false, "title": null}}
}
},
{
"data": {"name": "bands"},
"mark": {"type": "line", "interpolate": "monotone", "color": "black", "strokeWidth": 1.6, "clip": true},
"encoding": {
"x": {"field": "k", "type": "quantitative", "scale": {"domain": [0, 1393], "nice": false, "zero": false},
"axis": {"orient": "bottom", "values": [0, 102, 286, 298, 503, 515, 607, 812, 903, 1087, 1189, 1393],
"labelExpr": "datum.value == 0 ? 'Γ' : datum.value == 102 ? 'Y' : datum.value == 286 ? 'H' : datum.value == 298 ? 'C' : datum.value == 503 ? 'E' : datum.value == 515 ? 'M₁' : datum.value == 607 ? 'A' : datum.value == 812 ? 'X' : datum.value == 903 ? 'H₁\u00a0\u00a0M' : datum.value == 1087 ? 'D' : datum.value == 1189 ? 'Z\u00a0\u00a0\u00a0Y' : 'D'",
"labelAlign": {"condition": {"test": "datum.value == 0", "value": "left"}, "value": "center"},
"labelOverlap": false, "labelFlush": false, "labelBound": false, "labelFont": "Liberation Sans", "labelFontSize": 20, "labelColor": "black", "labelPadding": 29,
"ticks": true, "tickSize": -10, "tickColor": "black", "tickWidth": 1, "domain": false, "grid": false, "title": null}},
"y": {"field": "e", "type": "quantitative", "scale": {"domain": [-5, 2], "nice": false, "zero": false},
"axis": {"orient": "left", "values": [-5, -4, -3, -2, -1, 0, 1, 2], "labelExpr": "toString(datum.value)", "labelOverlap": false, "labelFlush": false, "labelFont": "Liberation Sans", "labelFontSize": 20, "labelColor": "black", "labelPadding": 27,
"ticks": true, "tickSize": -10, "tickColor": "black", "tickWidth": 1, "domain": false, "grid": false, "title": null}},
"detail": [{"field": "s", "type": "nominal"}, {"field": "b", "type": "nominal"}]
}
},
{
"data": {"name": "jumps"},
"mark": {"type": "rule", "color": "black", "strokeWidth": 1.6, "clip": true},
"encoding": {
"x": {"field": "k", "type": "quantitative", "scale": {"domain": [0, 1393], "nice": false, "zero": false}, "axis": null},
"y": {"field": "e", "type": "quantitative", "scale": {"domain": [-5, 2], "nice": false, "zero": false}, "axis": null},
"y2": {"field": "e2"}
}
}
],
"resolve": {"axis": {"x": "independent", "y": "independent"}}
}
